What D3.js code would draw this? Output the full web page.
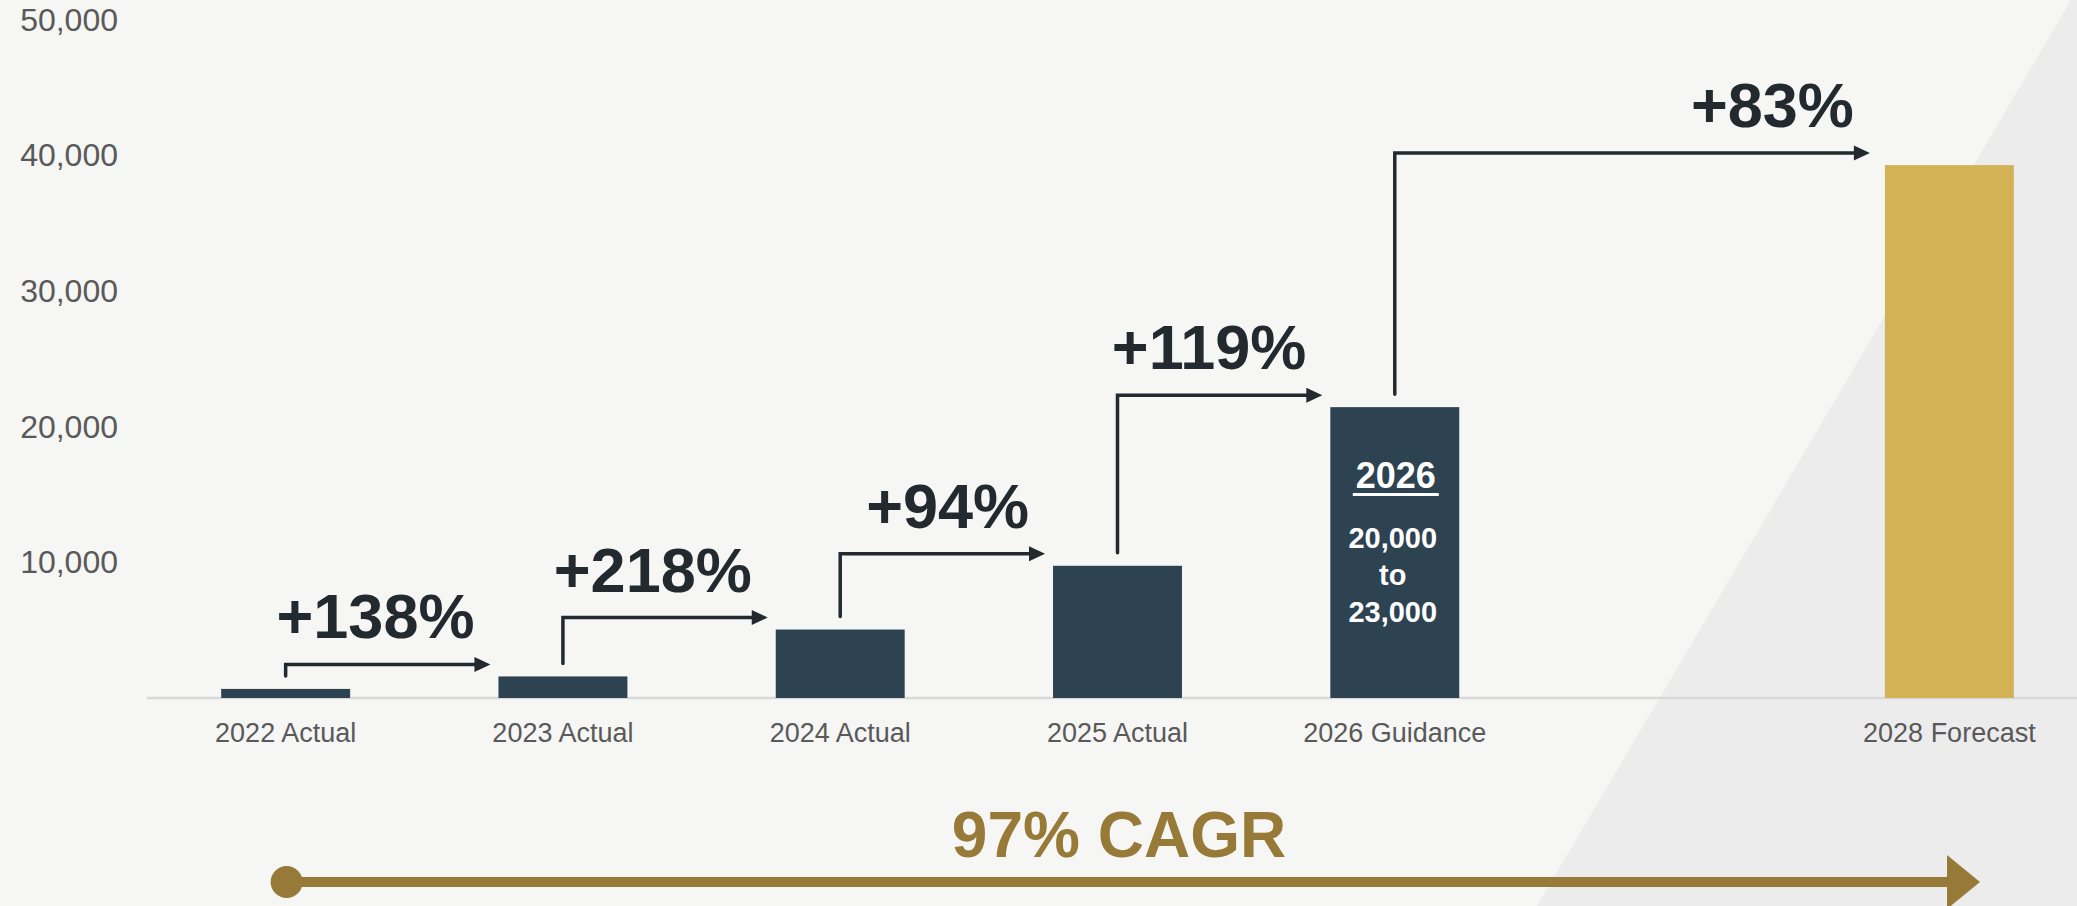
<!DOCTYPE html>
<html>
<head>
<meta charset="utf-8">
<script src="https://cdn.jsdelivr.net/npm/d3@7"></script>
<style>
  html, body { margin: 0; padding: 0; background: #f6f6f4; }
  svg { display: block; font-family: "Liberation Sans", Arial, sans-serif; }
  .axis text { fill: #595959; }
  .axis .domain { display: none; }
</style>
</head>
<body>
<svg id="chart" width="2077" height="906"></svg>
<script>
// chart data
var slots = ["2022", "2023", "2024", "2025", "2026", "2027", "2028"];
var years = ["2022", "2023", "2024", "2025", "2026", "2028"];
var labels = ["2022 Actual", "2023 Actual", "2024 Actual", "2025 Actual", "2026 Guidance", "2028 Forecast"];
var values = [670, 1590, 5050, 9750, 21450, 39300];
var forecast = [false, false, false, false, false, true];
var growth = ["+138%", "+218%", "+94%", "+119%", "+83%"];
var yTicks = [10000, 20000, 30000, 40000, 50000];
var guidanceLines = ["20,000", "to", "23,000"];
var guidanceTitle = "2026";
var cagrText = "97% CAGR";

var W = 2077, H = 906;
var svg = d3.select("#chart");

// light diagonal panel on the right
svg.append("polygon")
  .attr("points", [[2071, 0], [W, 0], [W, H], [1537, H]].map(function (p) { return p.join(","); }).join(" "))
  .attr("fill", "#ececec");

var x = d3.scaleBand()
  .domain(slots)
  .range([147, 2088])
  .paddingInner(0.535)
  .paddingOuter(0.2675);

var y = d3.scaleLinear()
  .domain([0, 50000])
  .range([698, 20]);

var labelOf = {};
years.forEach(function (yr, i) { labelOf[yr] = labels[i]; });

// y axis labels
svg.append("g")
  .attr("class", "axis axis--y")
  .attr("transform", "translate(147,0)")
  .call(d3.axisLeft(y).tickValues(yTicks).tickSize(0).tickPadding(29).tickFormat(d3.format(",")))
  .selectAll("text")
  .attr("font-size", 32)
  .attr("font-family", "Liberation Sans, Arial, sans-serif");

// x axis labels
svg.append("g")
  .attr("class", "axis axis--x")
  .attr("transform", "translate(0," + y(0) + ")")
  .call(d3.axisBottom(x).tickValues(years).tickSize(0).tickPadding(25)
    .tickFormat(function (d) { return labelOf[d]; }))
  .selectAll("text")
  .attr("font-size", 27)
  .attr("font-family", "Liberation Sans, Arial, sans-serif");

// baseline
svg.append("line")
  .attr("x1", 147).attr("x2", W)
  .attr("y1", y(0)).attr("y2", y(0))
  .attr("stroke", "#d9d9d9")
  .attr("stroke-width", 2.5);

// bars
svg.selectAll("rect.bar")
  .data(values)
  .enter().append("rect")
  .attr("class", "bar")
  .attr("x", function (d, i) { return x(years[i]); })
  .attr("y", function (d) { return y(d); })
  .attr("width", x.bandwidth())
  .attr("height", function (d) { return y(0) - y(d); })
  .attr("fill", function (d, i) { return forecast[i] ? "#d3b155" : "#2e4352"; });

// guidance text inside 2026 bar
var gx = x("2026") + x.bandwidth() / 2 - 1;
svg.append("text")
  .attr("x", gx + 2).attr("y", 488)
  .attr("text-anchor", "middle")
  .attr("font-size", 36).attr("font-weight", "bold")
  .attr("fill", "#ffffff")
  .text(guidanceTitle);
svg.append("line")
  .attr("x1", gx + 2 - 43).attr("x2", gx + 2 + 43)
  .attr("y1", 494.5).attr("y2", 494.5)
  .attr("stroke", "#ffffff").attr("stroke-width", 3);
guidanceLines.forEach(function (t, i) {
  svg.append("text")
    .attr("x", gx - 1).attr("y", 548 + i * 37)
    .attr("text-anchor", "middle")
    .attr("font-size", 29).attr("font-weight", "bold")
    .attr("fill", "#ffffff")
    .text(t);
});

// growth arrows
var dark = "#22292f";
var headLen = 16, headHalf = 7.5;
for (var i = 0; i < growth.length; i++) {
  var cx = x(years[i]) + x.bandwidth() / 2;
  var y0 = y(values[i]) - 13;
  var y1 = y(values[i + 1]) - 12;
  var tip = x(years[i + 1]) - (i == growth.length - 1 ? 15 : 8);

  svg.append("path")
    .attr("d", "M" + cx + "," + y0 + "V" + y1 + "H" + (tip - headLen + 2))
    .attr("fill", "none")
    .attr("stroke", dark)
    .attr("stroke-width", 3.5)
    .attr("stroke-linecap", "round")
    .attr("stroke-linejoin", "miter");

  svg.append("path")
    .attr("d", "M" + tip + "," + y1 + "L" + (tip - headLen) + "," + (y1 - headHalf) + "L" + (tip - headLen) + "," + (y1 + headHalf) + "Z")
    .attr("fill", dark);

  svg.append("text")
    .attr("x", tip - 16)
    .attr("y", y1 - 26)
    .attr("text-anchor", "end")
    .attr("font-size", 63)
    .attr("font-weight", "bold")
    .attr("fill", dark)
    .text(growth[i]);
}

// CAGR arrow
var gold = "#977a37";
var cagrY = 882;
var cagrStart = x("2022") + x.bandwidth() / 2 + 1;
var cagrTip = 1980;
svg.append("line")
  .attr("x1", cagrStart).attr("x2", cagrTip - 30)
  .attr("y1", cagrY).attr("y2", cagrY)
  .attr("stroke", gold).attr("stroke-width", 10);
svg.append("circle")
  .attr("cx", cagrStart).attr("cy", cagrY).attr("r", 16)
  .attr("fill", gold);
svg.append("path")
  .attr("d", "M" + cagrTip + "," + cagrY + "L" + (cagrTip - 33) + "," + (cagrY - 27) + "L" + (cagrTip - 33) + "," + (cagrY + 27) + "Z")
  .attr("fill", gold);
svg.append("text")
  .attr("x", 1119).attr("y", 857)
  .attr("text-anchor", "middle")
  .attr("font-size", 64).attr("font-weight", "bold")
  .attr("fill", gold)
  .text(cagrText);
</script>
</body>
</html>
